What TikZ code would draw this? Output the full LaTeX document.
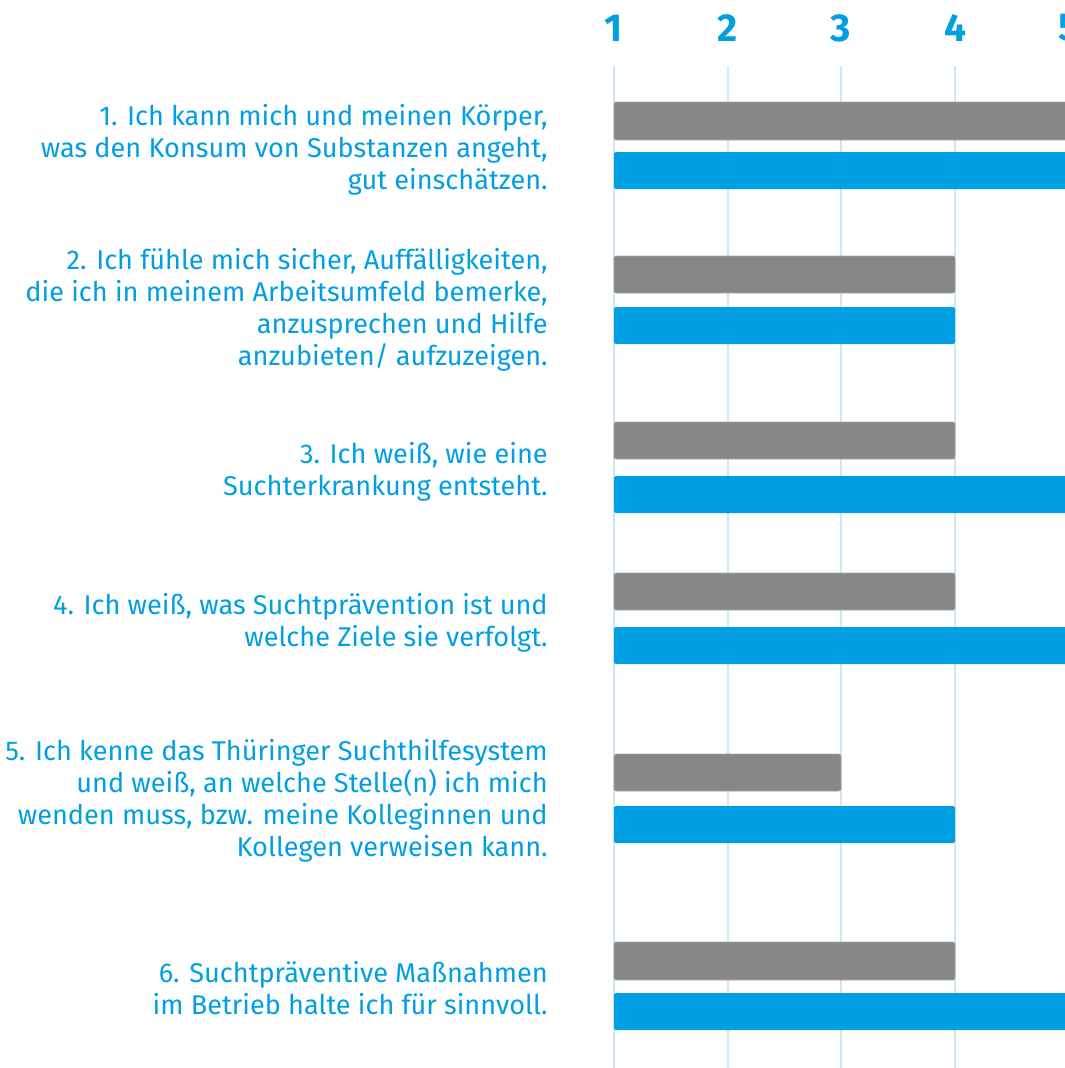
\documentclass[tikz,border=0pt]{standalone}
\usepackage{fontspec}
\setmainfont{Fira Sans}
\usepackage{xcolor}
\usepackage{tikz}
\usetikzlibrary{positioning}

\definecolor{itemblue}{HTML}{009FE3}
\definecolor{itemgray}{HTML}{878786}
\definecolor{gridblue}{HTML}{CDE6F8}

\tikzset{
  item/.style={anchor=east, align=right, text=itemblue, inner sep=0pt,
    font=\fontsize{19.3}{22.8}\selectfont},
  scalenum/.style={text=itemblue, inner sep=0pt,
    font=\fontsize{27.7}{30}\selectfont\bfseries},
  gridline/.style={draw=gridblue, line width=2.1pt},
  graybar/.style={fill=itemgray, draw=itemgray!75, line width=0.4pt, rounded corners=1.5pt},
  bluebar/.style={fill=itemblue, rounded corners=1.5pt},
}

\begin{document}
\begin{tikzpicture}[x=0.025cm, y=-0.025cm]
    \useasboundingbox (0,0) rectangle (1065,1068);
    \clip (0,0) rectangle (1065,1068);

    % Skala oben
    \node[scalenum] (n1) at (614,28) {1};
    \node[scalenum] (n2) at (728,28) {2};
    \node[scalenum] (n3) at (841,28) {3};
    \node[scalenum] (n4) at (955,28) {4};
    \node[scalenum] (n5) at (1069,28) {5};

    % Hilfslinien
    \draw[gridline] (614,66) -- (614,1068);
    \draw[gridline] (728,66) -- (728,1068);
    \draw[gridline] (841,66) -- (841,1068);
    \draw[gridline] (955,66) -- (955,1068);

    % Aussagen
    \node[item] (q1) at (548,150) {1. Ich kann mich und meinen Körper,\\
        was den Konsum von Substanzen angeht,\\ gut einschätzen.};
    \node[item] (q2) at (548,310) {2. Ich fühle mich sicher, Auffälligkeiten,\\
        die ich in meinem Arbeitsumfeld bemerke,\\
        anzusprechen und Hilfe\\ anzubieten/ aufzuzeigen.};
    \node[item] (q3) at (548,472) {3. Ich weiß, wie eine\\ Suchterkrankung entsteht.};
    \node[item] (q4) at (548,623) {4. Ich weiß, was Suchtprävention ist und\\
        welche Ziele sie verfolgt.};
    \node[item] (q5) at (548,801) {5. Ich kenne das Thüringer Suchthilfesystem\\
        und weiß, an welche Stelle(n) ich mich\\
        wenden muss, bzw. meine Kolleginnen und\\ Kollegen verweisen kann.};
    \node[item] (q6) at (548,988) {6. Suchtpräventive Maßnahmen\\
        im Betrieb halte ich für sinnvoll.};

    % Balken
    \draw[graybar] (614,102) rectangle (1075,140);
    \fill[bluebar] (614,152) rectangle (1075,189);
    \draw[graybar] (614,256) rectangle (955,293);
    \fill[bluebar] (614,307) rectangle (955,344);
    \draw[graybar] (614,422) rectangle (955,459);
    \fill[bluebar] (614,476) rectangle (1075,513);
    \draw[graybar] (614,573) rectangle (955,610);
    \fill[bluebar] (614,627) rectangle (1075,664);
    \draw[graybar] (614,754) rectangle (841,791);
    \fill[bluebar] (614,806) rectangle (955,843);
    \draw[graybar] (614,942) rectangle (955,980);
    \fill[bluebar] (614,993) rectangle (1075,1030);
\end{tikzpicture}
\end{document}
